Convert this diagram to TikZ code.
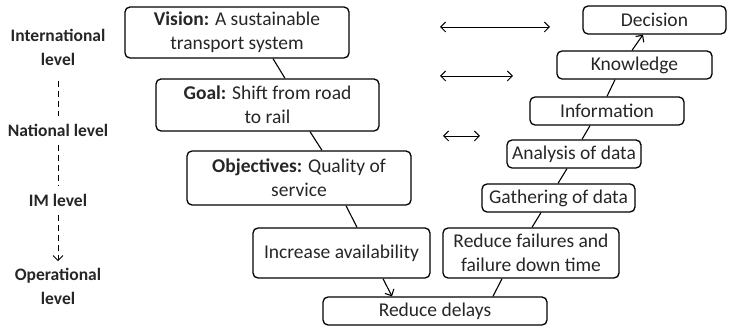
\documentclass[tikz,border=0pt]{standalone}
\usepackage{fontspec}
\setmainfont{Carlito}
\usetikzlibrary{arrows.meta,calc}
\begin{document}
\begin{tikzpicture}[x=1pt,y=-1pt,
  box/.style={draw,line width=1.3pt,rounded corners=5pt,align=center,inner sep=0pt,text=black!85,font=\fontsize{19.5}{24}\selectfont},
  lvl/.style={align=center,text=black!85,font=\fontsize{17.5}{24}\selectfont\bfseries},
  conn/.style={line width=1.1pt},
  tip/.style={-{Straight Barb[length=5pt,width=10pt,line width=1.1pt]}},
  dbl/.style={line width=0.9pt,{Straight Barb[length=5pt,width=10pt]}-{Straight Barb[length=5pt,width=10pt]}}]
\useasboundingbox (0,0) rectangle (729,328);
% left levels
\node[lvl] (intl) at (58,47) {International\\level};
\node[lvl] (natl) at (58,130) {National level};
\node[lvl] (im) at (58,200) {IM level};
\node[lvl] (oper) at (58,286) {Operational\\level};
\draw[line width=1pt,dash pattern=on 6pt off 4pt] ([yshift=-12pt]intl.south) -- ([yshift=4pt]natl.north);
\draw[line width=1pt,dash pattern=on 6pt off 4pt] ([yshift=-5pt]natl.south) -- ([yshift=4pt]im.north);
\draw[line width=1pt,dash pattern=on 6pt off 4pt,-{Straight Barb[length=5pt,width=10pt]}] ([yshift=-5pt]im.south) -- ([yshift=3pt]oper.north);
% left chain
\node[box,minimum width=224pt,minimum height=51pt] (vision) at (237,32.5) {\textbf{Vision:} A sustainable\\transport system};
\node[box,minimum width=223pt,minimum height=52pt] (goal) at (267.5,105) {\textbf{Goal:} Shift from road\\to rail};
\node[box,minimum width=224pt,minimum height=54pt] (obj) at (299,178) {\textbf{Objectives:} Quality of\\service};
\node[box,minimum width=177pt,minimum height=50pt] (incr) at (341.5,253) {Increase availability};
\node[box,minimum width=224pt,minimum height=28pt] (delays) at (435,311) {Reduce delays};
% right chain
\node[box,minimum width=176pt,minimum height=50pt] (fail) at (531,253) {Reduce failures and\\failure down time};
\node[box,minimum width=153pt,minimum height=28pt] (gather) at (558.5,198) {Gathering of data};
\node[box,minimum width=134pt,minimum height=28pt] (anal) at (574,154) {Analysis of data};
\node[box,minimum width=154pt,minimum height=28pt] (info) at (607,111) {Information};
\node[box,minimum width=155pt,minimum height=28pt] (know) at (634.5,65) {Knowledge};
\node[box,minimum width=143pt,minimum height=28pt] (dec) at (654.5,20) {Decision};
% connectors
\draw[conn] ([xshift=36pt]vision.south) -- ([xshift=17.5pt]goal.north);
\draw[conn] ([xshift=42.5pt]goal.south) -- ([xshift=23pt]obj.north);
\draw[conn] ([xshift=47pt]obj.south) -- ([xshift=15.5pt]incr.north);
\draw[conn,tip] ([xshift=41.5pt]incr.south) -- ([xshift=-43pt]delays.north);
\draw[conn] ([xshift=-29pt]fail.south) -- ([xshift=58pt]delays.north);
\draw[conn] ([xshift=1pt]fail.north) -- ([xshift=-17.5pt]gather.south);
\draw[conn] ([xshift=-0.5pt]gather.north) -- ([xshift=-7pt]anal.south);
\draw[conn] ([xshift=8pt]anal.north) -- ([xshift=-17pt]info.south);
\draw[conn] (info.north) -- ([xshift=-19.5pt]know.south);
\draw[conn,tip] ([xshift=-2.5pt]know.north) -- ([xshift=-11.5pt]dec.south);
% double arrows
\coordinate (a1l) at (440,27); \coordinate (a1r) at (550,27);
\coordinate (a2l) at (440,76); \coordinate (a2r) at (513,76);
\coordinate (a3l) at (443,136); \coordinate (a3r) at (480,136);
\draw[dbl] (a1l) -- (a1r);
\draw[dbl] (a2l) -- (a2r);
\draw[dbl] (a3l) -- (a3r);
\end{tikzpicture}
\end{document}
